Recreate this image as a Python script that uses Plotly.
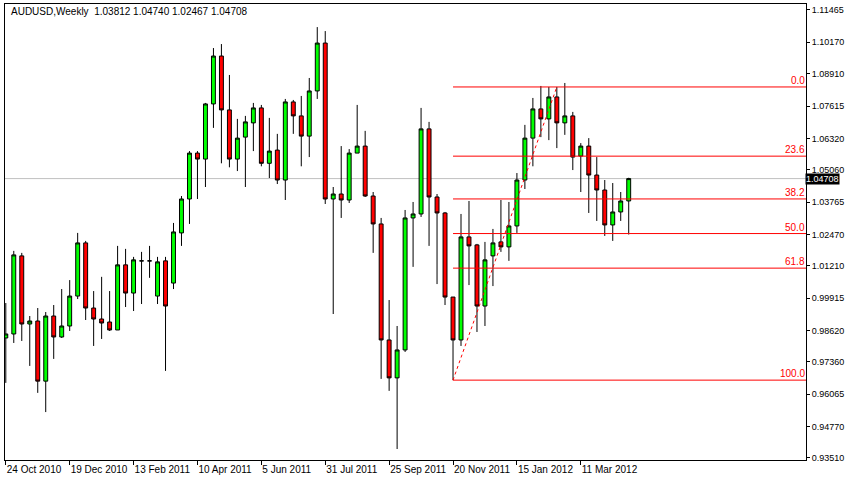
import plotly.graph_objects as go
import pandas as pd

# weekly AUDUSD candles, first bar = week of 24 Oct 2010
opens = [0.9832, 0.9848, 1.0161, 0.9888, 0.9900, 0.9659, 0.9920, 0.9836, 0.9880, 1.0000,
         1.0213, 0.9952, 0.9908, 0.9896, 0.9864, 1.0125, 1.0012, 1.0141, 1.0141, 1.0000,
         1.0141, 1.0052, 1.0253, 1.0389, 1.0573, 1.0549, 1.0770, 1.0962, 1.0746, 1.0549,
         1.0637, 1.0694, 1.0754, 1.0532, 1.0585, 1.0465, 1.0778, 1.0722, 1.0641, 1.0822,
         1.1014, 1.0389, 1.0409, 1.0385, 1.0573, 1.0601, 1.0401, 1.0289, 0.9824, 0.9672,
         0.9784, 1.0313, 1.0329, 1.0670, 1.0397, 1.0333, 0.9996, 0.9824, 1.0237, 1.0205,
         0.9960, 1.0161, 1.0217, 1.0197, 1.0281, 1.0465, 1.0633, 1.0750, 1.0710, 1.0798,
         1.0694, 1.0722, 1.0561, 1.0601, 1.0485, 1.0425, 1.0285, 1.0337, 1.03812]
highs = [0.9972, 1.0181, 1.0173, 0.9920, 0.9952, 0.9936, 0.9964, 1.0028, 1.0064, 1.0253,
         1.0221, 1.0020, 1.0077, 1.0020, 1.0201, 1.0189, 1.0157, 1.0177, 1.0201, 1.0157,
         1.0157, 1.0293, 1.0401, 1.0581, 1.0581, 1.0774, 1.0994, 1.1010, 1.0886, 1.0710,
         1.0722, 1.0774, 1.0766, 1.0714, 1.0650, 1.0790, 1.0786, 1.0802, 1.0874, 1.1078,
         1.1062, 1.0437, 1.0601, 1.0589, 1.0766, 1.0662, 1.0417, 1.0313, 0.9984, 0.9880,
         1.0345, 1.0377, 1.0754, 1.0698, 1.0409, 1.0337, 0.9996, 1.0329, 1.0381, 1.0209,
         1.0217, 1.0269, 1.0385, 1.0377, 1.0493, 1.0686, 1.0794, 1.0842, 1.0838, 1.0838,
         1.0854, 1.0738, 1.0613, 1.0633, 1.0557, 1.0465, 1.0453, 1.0417, 1.04740]
lows = [0.9652, 0.9812, 0.9820, 0.9720, 0.9612, 0.9535, 0.9748, 0.9832, 0.9860, 0.9988,
        0.9904, 0.9800, 0.9828, 0.9860, 0.9864, 0.9956, 0.9940, 0.9968, 1.0073, 0.9968,
        0.9700, 1.0028, 1.0201, 1.0289, 1.0389, 1.0437, 1.0674, 1.0532, 1.0516, 1.0501,
        1.0437, 1.0581, 1.0520, 1.0473, 1.0449, 1.0385, 1.0650, 1.0520, 1.0557, 1.0790,
        1.0369, 0.9928, 1.0313, 1.0373, 1.0573, 1.0397, 1.0173, 0.9668, 0.9620, 0.9387,
        0.9776, 1.0117, 1.0317, 1.0201, 1.0048, 0.9964, 0.9663, 0.9800, 1.0044, 0.9856,
        0.9880, 1.0040, 1.0177, 1.0141, 1.0253, 1.0429, 1.0520, 1.0637, 1.0625, 1.0593,
        1.0646, 1.0505, 1.0417, 1.0333, 1.0301, 1.0241, 1.0221, 1.0301, 1.02467]
closes = [0.9848, 1.0165, 0.9888, 0.9900, 0.9659, 0.9920, 0.9836, 0.9880, 1.0000, 1.0213,
          0.9952, 0.9908, 0.9892, 0.9864, 1.0125, 1.0012, 1.0145, 1.0141, 1.0141, 1.0137,
          0.9960, 1.0257, 1.0389, 1.0573, 1.0549, 1.0770, 1.0962, 1.0746, 1.0549, 1.0633,
          1.0698, 1.0754, 1.0532, 1.0581, 1.0465, 1.0778, 1.0722, 1.0641, 1.0822, 1.1014,
          1.0389, 1.0409, 1.0385, 1.0573, 1.0601, 1.0401, 1.0289, 0.9824, 0.9672, 0.9784,
          1.0313, 1.0329, 1.0670, 1.0397, 1.0333, 0.9996, 0.9824, 1.0237, 1.0201, 0.9960,
          1.0145, 1.0213, 1.0197, 1.0281, 1.0465, 1.0633, 1.0750, 1.0710, 1.0798, 1.0694,
          1.0722, 1.0557, 1.0601, 1.0485, 1.0425, 1.0285, 1.0337, 1.0381, 1.04708]

dates = pd.date_range("2010-10-24", periods=len(opens), freq="7D")
date_labels = [d.strftime("%d %b %Y").lstrip("0") for d in dates]
price_ticks = [1.11465, 1.10170, 1.08910, 1.07615, 1.06320, 1.05060, 1.03765, 1.02470,
               1.01210, 0.99915, 0.98620, 0.97360, 0.96065, 0.94770, 0.93510]

fib_start, fib_end = 56, 69  # swing low bar / swing high bar
fib_low, fib_high = 0.9663, 1.0838
fib_levels = [0.0, 23.6, 38.2, 50.0, 61.8, 100.0]
last_price = 1.04708

idx = list(range(len(opens)))
fig = go.Figure(go.Candlestick(
    x=idx, open=opens, high=highs, low=lows, close=closes,
    increasing=dict(fillcolor="#00FF00", line=dict(color="black", width=1)),
    decreasing=dict(fillcolor="#FF0000", line=dict(color="black", width=1)),
    whiskerwidth=0, hoverinfo="skip", showlegend=False))

shapes = [dict(type="line", xref="paper", x0=0, x1=1, y0=last_price, y1=last_price,
               line=dict(color="#C0C0C0", width=1), layer="below")]
annotations = []
for lv in fib_levels:
    y = fib_high - (fib_high - fib_low) * lv / 100
    shapes.append(dict(type="line", x0=fib_start, x1=100.2, y0=y, y1=y,
                       line=dict(color="red", width=1)))
    annotations.append(dict(x=1, xref="paper", y=y, xanchor="right", yanchor="bottom",
                            text="%.1f" % lv, showarrow=False, yshift=-1, xshift=1,
                            font=dict(color="red", size=10)))
shapes.append(dict(type="line", x0=fib_start, x1=fib_end, y0=fib_low, y1=fib_high,
                   line=dict(color="red", width=1, dash="dot")))

annotations.append(dict(x=0.005, xref="paper", y=1, yref="paper", xanchor="left", yanchor="top",
                        text="AUDUSD,Weekly  1.03812 1.04740 1.02467 1.04708",
                        showarrow=False, font=dict(size=10, color="black")))
annotations.append(dict(x=1, xref="paper", y=last_price, xanchor="left", xshift=-1,
                        text="1.04708", showarrow=False, bgcolor="black",
                        font=dict(size=9, color="white"), borderpad=0))

fig.update_layout(
    width=848, height=480, margin=dict(l=5, r=42, t=4, b=20, autoexpand=False),
    paper_bgcolor="white", plot_bgcolor="white",
    font=dict(family="Liberation Sans, Arial", size=9, color="black"),
    shapes=shapes, annotations=annotations,
    xaxis=dict(range=[-0.1, 100.2], rangeslider=dict(visible=False),
               tickvals=idx[::8], ticktext=date_labels[::8], ticks="outside", ticklen=4,
               tickcolor="black", showgrid=False, zeroline=False, tickangle=0,
               showline=True, linecolor="black", mirror=True, ticklabelposition="outside right",
               tickfont=dict(size=10), automargin=False),
    yaxis=dict(side="right", range=[0.93429, 1.11705], tickvals=price_ticks,
               ticktext=["%.5f" % v for v in price_ticks], ticks="outside", ticklen=3,
               tickcolor="black", showgrid=False, zeroline=False, automargin=False,
               showline=True, linecolor="black", mirror=True, tickfont=dict(size=9)),
)
fig.write_html("out.html", config={"displayModeBar": False},
               post_script="document.body.style.margin='0';")
